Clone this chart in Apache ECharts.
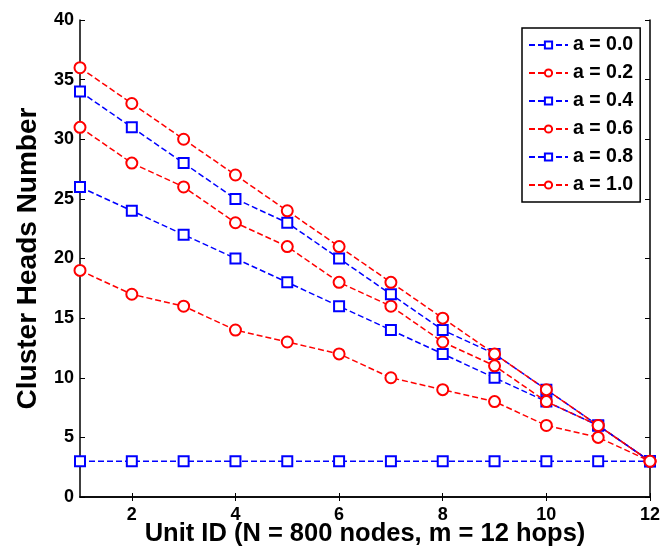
<!DOCTYPE html>
<html><head><meta charset="utf-8">
<script src="https://cdn.jsdelivr.net/npm/echarts@6/dist/echarts.min.js"></script>
<style>html,body{margin:0;padding:0;background:#fff}#c{width:661px;height:549px}</style>
</head><body><div id="c"></div>
<script>
const unitIds = [1,2,3,4,5,6,7,8,9,10,11,12];
const xTicks = [2,4,6,8,10,12];
const seriesNames = ['a = 0.0','a = 0.2','a = 0.4','a = 0.6','a = 0.8','a = 1.0'];
const a00 = [3,3,3,3,3,3,3,3,3,3,3,3];
const a02 = [19,17,16,14,13,12,10,9,8,6,5,3];
const a04 = [26,24,22,20,18,16,14,12,10,8,6,3];
const a06 = [31,28,26,23,21,18,16,13,11,8,6,3];
const a08 = [34,31,28,25,23,20,17,14,12,9,6,3];
const a10 = [36,33,30,27,24,21,18,15,12,9,6,3];
const allData = [a00,a02,a04,a06,a08,a10];
const colors = ['#0000ff','#ff0000','#0000ff','#ff0000','#0000ff','#ff0000'];
const symbols = ['rect','circle','rect','circle','rect','circle'];

const font = 'Liberation Sans, Arial, sans-serif';
const chart = echarts.init(document.getElementById('c'));
const series = allData.map((d,i)=>({
  name: seriesNames[i], type:'line',
  data: d.map((v,j)=>[unitIds[j], v]),
  symbol: symbols[i], symbolSize: symbols[i]==='rect'?10:11,
  showAllSymbol:true,
  lineStyle:{color:colors[i], width:1.5, type:[6,3]},
  itemStyle:{color:'#fff', borderColor:colors[i], borderWidth:2},
  emphasis:{disabled:true}, animation:false, z: 2+i
}));
chart.setOption({
  animation:false,
  grid:{left:80, right:11, top:20, bottom:52, outerBoundsMode:'none', containLabel:false},
  legend:{
    orient:'vertical', left:522, top:28, data:seriesNames,
    backgroundColor:'#fff', borderColor:'#000', borderWidth:1.5,
    padding:[7,7,7,6], itemGap:8, itemWidth:39, itemHeight:9,
    textStyle:{fontFamily:font, fontWeight:'bold', fontSize:19.5, color:'#000'}
  },
  xAxis:[{
    type:'value', min:1, max:12,
    axisLine:{lineStyle:{color:'#000', width:1.5}},
    axisTick:{inside:true, length:4, customValues:xTicks, lineStyle:{color:'#000'}},
    axisLabel:{customValues:xTicks, fontFamily:font, fontWeight:'bold', fontSize:18, color:'#000', margin:9},
    splitLine:{show:false},
    name:'Unit ID (N = 800 nodes, m = 12 hops)', nameLocation:'middle', nameGap:37,
    nameMoveOverlap:false,
    nameTextStyle:{fontFamily:font, fontWeight:'bold', fontSize:25.5, color:'#000', verticalAlign:'middle'}
  },{
    type:'value', min:1, max:12, position:'top',
    axisLine:{lineStyle:{color:'#000', width:1.5}},
    axisTick:{inside:true, length:4, customValues:xTicks, lineStyle:{color:'#000'}},
    axisLabel:{show:false}, splitLine:{show:false}
  }],
  yAxis:[{
    type:'value', min:0, max:40, interval:5,
    axisLine:{show:true, lineStyle:{color:'#000', width:1.5}},
    axisTick:{show:true, inside:true, length:5, lineStyle:{color:'#000'}},
    axisLabel:{fontFamily:font, fontWeight:'bold', fontSize:18, color:'#000', margin:6},
    splitLine:{show:false},
    name:'Cluster Heads Number', nameLocation:'middle', nameGap:52,
    nameMoveOverlap:false,
    nameTextStyle:{fontFamily:font, fontWeight:'bold', fontSize:28, color:'#000', verticalAlign:'middle'}
  },{
    type:'value', min:0, max:40, interval:5, position:'right',
    axisLine:{show:true, lineStyle:{color:'#000', width:1.5}},
    axisTick:{show:true, inside:true, length:5, lineStyle:{color:'#000'}},
    axisLabel:{show:false}, splitLine:{show:false}
  }],
  series: series
});
</script></body></html>
